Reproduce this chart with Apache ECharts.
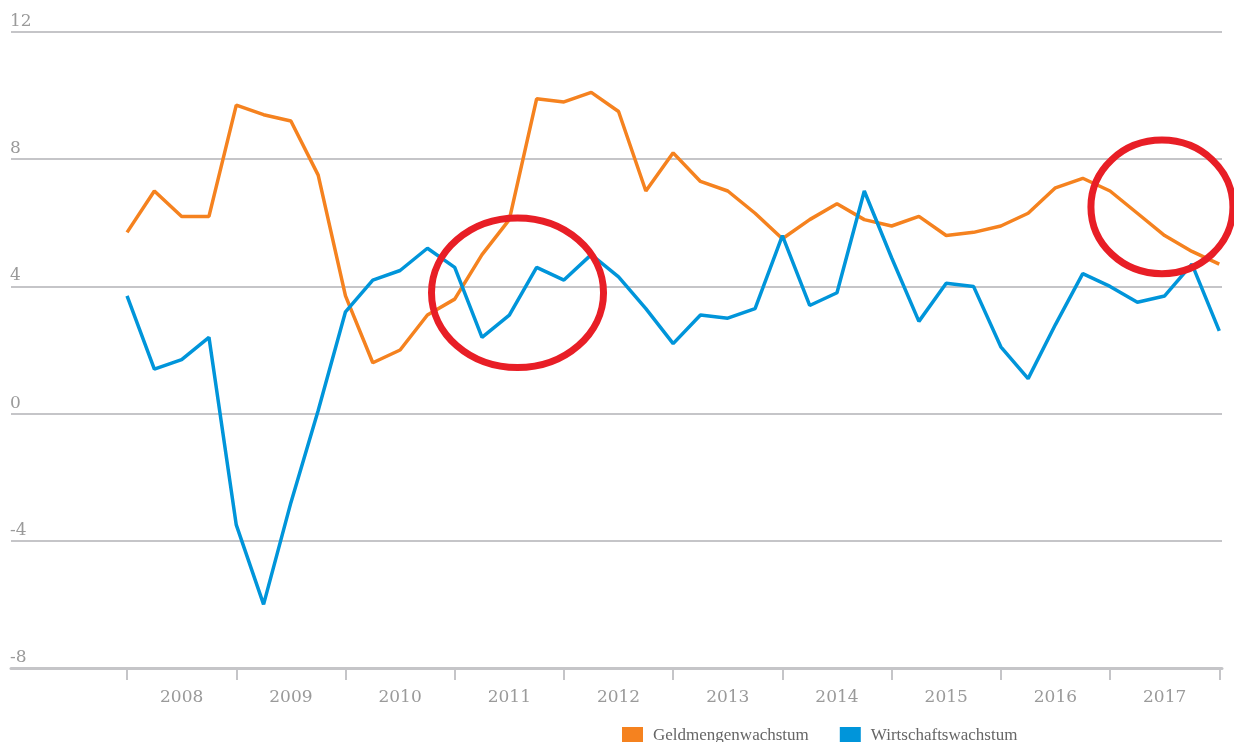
<!DOCTYPE html>
<html>
<head>
<meta charset="utf-8">
<script src="https://cdn.jsdelivr.net/npm/echarts@6/dist/echarts.min.js"></script>
<style>
  html, body { margin: 0; padding: 0; background: #fff; }
  #chart { width: 1234px; height: 742px; }
</style>
</head>
<body>
<div id="chart"></div>
<script>
  // Jahre (Beschriftung der x-Achse), je vier Quartale
  var years = ['2008', '2009', '2010', '2011', '2012', '2013', '2014', '2015', '2016', '2017'];

  // Geldmengenwachstum in %
  var geldmenge = [5.7, 7.0, 6.2, 6.2, 9.7, 9.4, 9.2, 7.5,
    3.7, 1.6, 2.0, 3.1, 3.6, 5.0, 6.1, 9.9,
    9.8, 10.1, 9.5, 7.0, 8.2, 7.3, 7.0, 6.3,
    5.5, 6.1, 6.6, 6.1, 5.9, 6.2, 5.6, 5.7,
    5.9, 6.3, 7.1, 7.4, 7.0, 6.3, 5.6, 5.1, 4.7];

  // Wirtschaftswachstum in %
  var wirtschaft = [3.7, 1.4, 1.7, 2.4, -3.5, -6.0, -2.8, 0.1,
    3.2, 4.2, 4.5, 5.2, 4.6, 2.4, 3.1, 4.6,
    4.2, 5.0, 4.3, 3.3, 2.2, 3.1, 3.0, 3.3,
    5.6, 3.4, 3.8, 7.0, 4.9, 2.9, 4.1, 4.0,
    2.1, 1.1, 2.8, 4.4, 4.0, 3.5, 3.7, 4.7, 2.6];

  // y-Achse
  var yTicks = [-8, -4, 0, 4, 8, 12];

  // rote Markierungen: [Quartalsindex, Wert, Radius x (Quartale), Radius y (Prozentpunkte)]
  var circles = [
    [14.3, 3.8, 3.15, 2.35],
    [37.9, 6.5, 2.6, 2.1]
  ];

  // Quartalsindex -> Jahresgrenzen und Jahresmitten
  var yearTicks = [];
  var yearMids = [];
  for (var i = 0; i <= years.length; i++) {
    yearTicks.push(i * 4);
    if (i < years.length) yearMids.push(i * 4 + 2);
  }

  var axisGrey = '#c5c5c8';
  var labelGrey = '#9a9a9a';

  var myChart = echarts.init(document.getElementById('chart'));
  var chartOption = {
    animation: false,
    backgroundColor: '#fff',
    grid: {
      left: 11,
      right: 12,
      top: 32,
      bottom: 74
    },
    legend: {
      data: ['Geldmengenwachstum', 'Wirtschaftswachstum'],
      left: 617,
      top: 722,
      icon: 'rect',
      itemWidth: 21,
      itemHeight: 18,
      itemGap: 31,
      textStyle: {
        fontFamily: 'Liberation Serif',
        fontSize: 17,
        color: '#666',
        padding: [0, 0, 4, 5]
      }
    },
    xAxis: {
      type: 'value',
      min: -4.25,
      max: 40.1,
      axisLine: { onZero: false, lineStyle: { color: axisGrey, width: 3 } },
      axisTick: {
        customValues: yearTicks,
        length: 12,
        lineStyle: { color: axisGrey, width: 2 }
      },
      axisLabel: {
        customValues: yearMids,
        formatter: function (val) { return years[Math.round((val - 2) / 4)]; },
        margin: 21,
        fontFamily: 'DejaVu Serif',
        fontSize: 17,
        color: labelGrey
      },
      splitLine: { show: false }
    },
    yAxis: {
      type: 'value',
      min: yTicks[0],
      max: yTicks[yTicks.length - 1],
      interval: 4,
      axisLine: { show: false },
      axisTick: { show: false },
      axisLabel: {
        inside: true,
        margin: -1,
        verticalAlign: 'bottom',
        padding: [0, 0, 2, 0],
        fontFamily: 'DejaVu Serif',
        fontSize: 17,
        color: labelGrey
      },
      splitLine: { lineStyle: { color: axisGrey, width: 2 } }
    },
    series: [
      {
        name: 'Geldmengenwachstum',
        type: 'line',
        data: geldmenge.map(function (v, idx) { return [idx, v]; }),
        symbol: 'none',
        color: '#f5821f',
        lineStyle: { color: '#f5821f', width: 3.5 }
      },
      {
        name: 'Wirtschaftswachstum',
        type: 'line',
        data: wirtschaft.map(function (v, idx) { return [idx, v]; }),
        symbol: 'none',
        color: '#0095da',
        lineStyle: { color: '#0095da', width: 3.5 }
      }
    ]
  };
  myChart.setOption(chartOption);

  // Markierungen ueber die Achsen in Pixel umrechnen
  var elements = circles.map(function (c) {
    var center = myChart.convertToPixel({ gridIndex: 0 }, [c[0], c[1]]);
    var edge = myChart.convertToPixel({ gridIndex: 0 }, [c[0] + c[2], c[1] + c[3]]);
    return {
      type: 'ellipse',
      z: 100,
      shape: {
        cx: center[0],
        cy: center[1],
        rx: Math.abs(edge[0] - center[0]),
        ry: Math.abs(center[1] - edge[1])
      },
      style: { fill: null, stroke: '#e81e26', lineWidth: 7 }
    };
  });
  myChart.setOption({ graphic: elements });
</script>
</body>
</html>
